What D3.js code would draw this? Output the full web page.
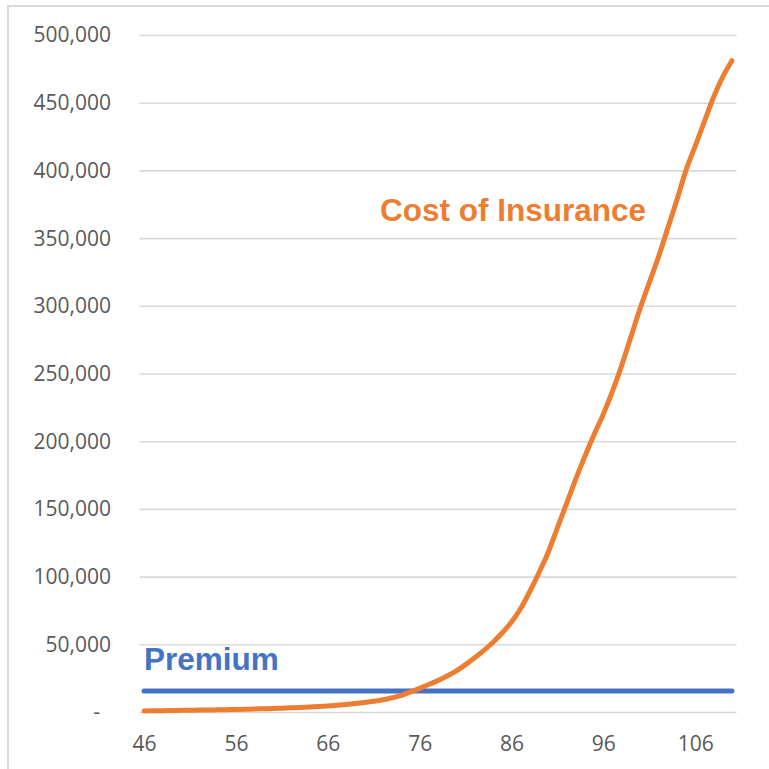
<!DOCTYPE html>
<html>
<head>
<meta charset="utf-8">
<script src="https://cdn.jsdelivr.net/npm/d3@7"></script>
<style>
  html, body { margin: 0; padding: 0; background: #ffffff; }
  svg { display: block; }
</style>
</head>
<body>
<svg id="chart" width="769" height="769"></svg>
<script>
// Policy ages on the category axis
const ages = [
  46, 47, 48, 49, 50, 51, 52, 53, 54, 55, 56, 57, 58, 59, 60, 61,
  62, 63, 64, 65, 66, 67, 68, 69, 70, 71, 72, 73, 74, 75, 76, 77,
  78, 79, 80, 81, 82, 83, 84, 85, 86, 87, 88, 89, 90, 91, 92, 93,
  94, 95, 96, 97, 98, 99, 100, 101, 102, 103, 104, 105, 106, 107, 108, 109, 110
];

// Annual cost of insurance by age
const costOfInsurance = [
  800, 900, 1000, 1100, 1200, 1300, 1400, 1500, 1600, 1750, 1900, 2050, 2200, 2400, 2600, 2850,
  3100, 3400, 3700, 4000, 4400, 4900, 5500, 6200, 7000, 7900, 9000, 10500, 12300, 14800, 17500, 20300,
  23300, 26600, 30400, 35000, 40000, 45500, 51500, 58500, 66500, 76500, 89000, 103000, 118000, 136000, 154000, 172000,
  189000, 205000, 220000, 237000, 256000, 277000, 298000, 317000, 336000, 357000, 378000, 400000, 418000, 436000, 454000, 469000, 481000
];

// Level annual premium
const premium = ages.map(() => 15500);

// Axis ticks
const yTicks = [0, 50000, 100000, 150000, 200000, 250000, 300000, 350000, 400000, 450000, 500000];
const xTickLabels = [46, 56, 66, 76, 86, 96, 106];

const svg = d3.select("#chart");

// Outer chart frame
svg.append("rect")
  .attr("x", 8).attr("y", 6)
  .attr("width", 800).attr("height", 800)
  .attr("fill", "none")
  .attr("stroke", "#d9d9d9")
  .attr("stroke-width", 2);

const plot = { left: 139.5, right: 736.5, top: 35, bottom: 712 };

const x = d3.scalePoint()
  .domain(ages)
  .range([plot.left, plot.right])
  .padding(0.5);

const y = d3.scaleLinear()
  .domain([0, 500000])
  .range([plot.bottom, plot.top]);

const labelFont = "'Open Sans', 'Segoe UI', sans-serif";
const labelColor = "#595959";

// Horizontal gridlines
const grid = svg.append("g")
  .attr("transform", `translate(${plot.left},0)`)
  .call(d3.axisLeft(y).tickValues(yTicks).tickSize(-(plot.right - plot.left)).tickFormat(""));
grid.select(".domain").remove();
grid.selectAll(".tick line")
  .attr("stroke", "#d9d9d9")
  .attr("stroke-width", 1.6);

// Y axis labels (accounting style: zero shown as a dash)
const yAxis = svg.append("g")
  .attr("transform", `translate(${plot.left},0)`)
  .call(d3.axisLeft(y)
    .tickValues(yTicks)
    .tickSize(0)
    .tickPadding(28.5)
    .tickFormat(d => d === 0 ? "-" : d3.format(",")(d)));
yAxis.select(".domain").remove();
yAxis.selectAll("text")
  .attr("font-family", labelFont)
  .attr("font-size", 21)
  .attr("fill", labelColor)
  .attr("dy", "0.33em")
  .filter(d => d === 0)
  .attr("dx", -11);

// X axis labels
const xAxis = svg.append("g")
  .attr("transform", `translate(0,${plot.bottom})`)
  .call(d3.axisBottom(x).tickValues(xTickLabels).tickSize(0).tickPadding(0));
xAxis.select(".domain").remove();
xAxis.selectAll("text")
  .attr("font-family", labelFont)
  .attr("font-size", 21)
  .attr("fill", labelColor)
  .attr("y", 32)
  .attr("dy", "0.33em");

// Premium line
const premiumLine = d3.line()
  .x((d, i) => x(ages[i]))
  .y(d => y(d));

svg.append("path")
  .datum(premium)
  .attr("d", premiumLine)
  .attr("fill", "none")
  .attr("stroke", "#4472C4")
  .attr("stroke-width", 5)
  .attr("stroke-linecap", "round");

// Cost of insurance curve
const coiLine = d3.line()
  .x((d, i) => x(ages[i]))
  .y(d => y(d))
  .curve(d3.curveMonotoneX);

svg.append("path")
  .datum(costOfInsurance)
  .attr("d", coiLine)
  .attr("fill", "none")
  .attr("stroke", "#ED7D31")
  .attr("stroke-width", 5)
  .attr("stroke-linecap", "round")
  .attr("stroke-linejoin", "round");

// Series labels
const seriesFont = "'Liberation Sans', Arial, sans-serif";

svg.append("text")
  .attr("x", 380)
  .attr("y", 221)
  .attr("font-family", seriesFont)
  .attr("font-weight", "bold")
  .attr("font-size", 31.5)
  .attr("fill", "#ED7D31")
  .text("Cost of Insurance");

svg.append("text")
  .attr("x", 144)
  .attr("y", 670)
  .attr("font-family", seriesFont)
  .attr("font-weight", "bold")
  .attr("font-size", 31.5)
  .attr("fill", "#4472C4")
  .text("Premium");
</script>
</body>
</html>
